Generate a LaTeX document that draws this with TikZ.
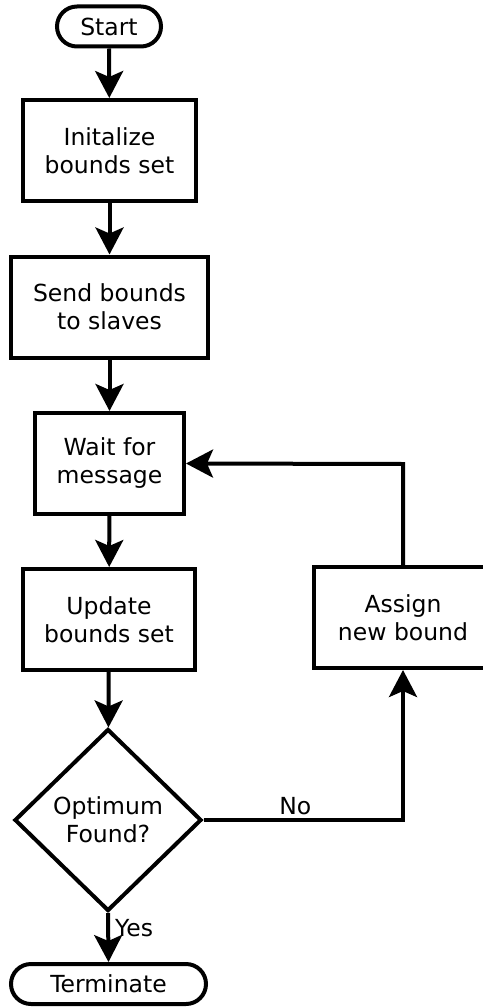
\documentclass[tikz,border=0pt]{standalone}
\usepackage{fontspec}
\setmainfont{DejaVu Sans}
\usetikzlibrary{arrows.meta,shapes.geometric}
\begin{document}
\begin{tikzpicture}[x=1pt,y=-1pt,
  every node/.style={font=\fontsize{23.5}{28}\selectfont, align=center, inner sep=0pt},
  proc/.style={draw, line width=4pt, rectangle, minimum width=#1, minimum height=101pt},
  term/.style={draw, line width=4pt, rounded corners=20pt, rectangle, minimum width=#1, minimum height=40pt},
  decide/.style={draw, line width=4pt, diamond, minimum width=187pt, minimum height=182pt},
  flow/.style={line width=4pt, -{Stealth[length=27pt, width=28pt, inset=6pt]}},
  lbl/.style={font=\fontsize{23.5}{28}\selectfont}]
\useasboundingbox (0,0) rectangle (482,1008);

\node[term=104pt] (start) at (109,26.5) {Start};
\node[proc=173pt] (init) at (109.5,150.5) {Initalize\\bounds set};
\node[proc=197pt] (send) at (109.5,307) {Send bounds\\to slaves};
\node[proc=149pt] (wait) at (109.5,463.5) {Wait for\\message};
\node[proc=172pt] (update) at (109,619.5) {Update\\bounds set};
\node[proc=178pt] (assign) at (403,617.5) {Assign\\new bound};
\node[decide] (opt) at (108,820) {Optimum\\Found?};
\node[term=195pt] (term) at (108.5,984) {Terminate};

\draw[flow] (start) -- (init);
\draw[flow] (init) -- (send);
\draw[flow] (send) -- (wait);
\draw[flow] (wait) -- (update);
\draw[flow] (update) -- (opt);
\draw[flow] (opt.south) -- node[lbl, right=5pt, pos=0.3] {Yes} (term.north);
\draw[flow] (opt.east) -- node[lbl, above=3pt, pos=0.46] {No} (403,820) -- (assign.south);
\draw[flow] (assign.north) -- (403,464) -- (wait.east);
\end{tikzpicture}
\end{document}
